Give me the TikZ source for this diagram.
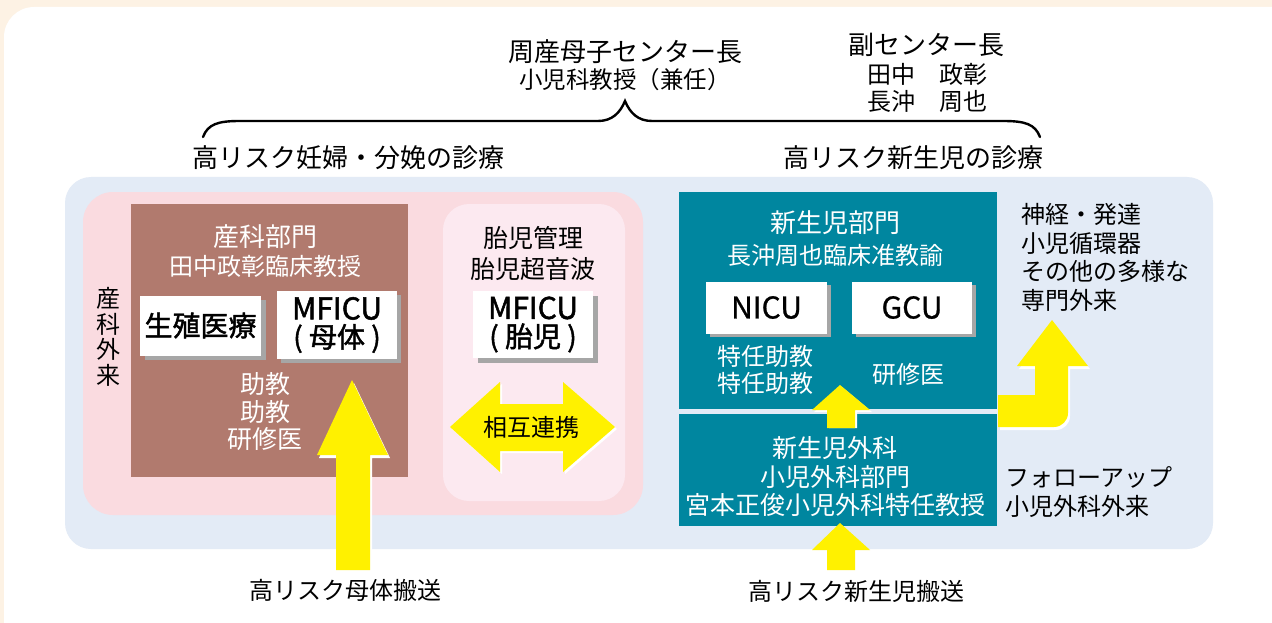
\documentclass[tikz,border=0pt]{standalone}
\usepackage{fontspec}
\setmainfont{Noto Sans CJK JP}
\newfontfamily\semibold{Noto Sans CJK JP}[FakeBold=1.6]
\newfontfamily\medweight{Noto Sans CJK JP}[FakeBold=0.8]
\definecolor{cream}{HTML}{FDF2E4}
\definecolor{lblue}{HTML}{E3EBF6}
\definecolor{pinkA}{HTML}{FADBE0}
\definecolor{pinkB}{HTML}{FCE9F0}
\definecolor{brownbox}{HTML}{B17A6E}
\definecolor{tealbox}{HTML}{00869F}
\definecolor{yel}{HTML}{FFF100}
\definecolor{shadowgray}{HTML}{A6A6A6}
\begin{document}
\begin{tikzpicture}[x=1pt,y=-1pt,
  txt/.style={inner sep=0pt, font=\fontsize{24}{28.5}\selectfont, align=center},
  bigtxt/.style={inner sep=0pt, font=\fontsize{26}{30}\selectfont, align=center},
  wtxt/.style={txt, text=white},
  wbigtxt/.style={bigtxt, text=white},
  wbox/.style={fill=white, inner sep=0pt, align=center, font=\semibold\fontsize{28}{28}\selectfont},
  shade/.style={fill=shadowgray},
  yarrow/.style={fill=yel},
  warrow/.style={fill=white}]
\useasboundingbox (0,0) rectangle (1272,623);
% background
\fill[cream] (0,0) rectangle (1272,623);
\fill[white, rounded corners=30pt] (4,7) rectangle (1310,660);
% brace
\draw[line width=2.4pt, line cap=round] (203,137) .. controls (208,124) and (218,121) .. (240,121) -- (598,121) .. controls (612,121) and (620,113) .. (625,101) .. controls (630,113) and (638,121) .. (652,121) -- (1003,121) .. controls (1025,121) and (1035,124) .. (1040,137);
% top texts
\node[bigtxt] (chief) at (625,52) {周産母子センター長};
\node[inner sep=0pt, font=\fontsize{23.5}{26}\selectfont] (chief2) at (625,80) {小児科教授（兼任）};
\node[bigtxt] (vice) at (926,45) {副センター長};
\node[txt, align=left, font=\fontsize{24}{27}\selectfont] (vicenames) at (927,88) {田中　政彰\\長沖　周也};
\node[bigtxt] (leftttl) at (348,158) {高リスク妊婦・分娩の診療};
\node[bigtxt] (rightttl) at (913,158) {高リスク新生児の診療};
% panels
\fill[lblue, rounded corners=26pt] (65,177) rectangle (1213,549);
\fill[pinkA, rounded corners=30pt] (83,192) rectangle (643,515);
\fill[pinkB, rounded corners=26pt] (443,204) rectangle (625,501);
\fill[brownbox] (131,204) rectangle (408,477);
\node[txt, font=\fontsize{24}{25.5}\selectfont] (obout) at (108,337) {産\\科\\外\\来};
% obstetrics
\node[wbigtxt] (obdept) at (265,237) {産科部門};
\node[wtxt] (obprof) at (265,266) {田中政彰臨床教授};
\fill[shade] (145,300) rectangle (266,360);
\node[wbox, minimum width=121pt, minimum height=60pt] (seishoku) at (200.5,325.5) {生殖医療};
\fill[shade] (281,295) rectangle (401,363);
\node[wbox, minimum width=120pt, minimum height=68pt] (mficuM) at (337,325) {{\fontsize{30}{28}\selectfont MFICU}\\( 母体 )};
\node[wtxt, font=\fontsize{25}{27.5}\selectfont] (obstaff) at (265,412) {助教\\助教\\研修医};
% fetal
\node[txt, font=\fontsize{25}{31}\selectfont] (fetal) at (533,253) {胎児管理\\胎児超音波};
\fill[shade] (478,296) rectangle (598,363);
\node[wbox, minimum width=120pt, minimum height=67pt] (mficuF) at (533,324.5) {{\fontsize{30}{28}\selectfont MFICU}\\( 胎児 )};
% double arrow
\fill[warrow, shift={(2,2)}] (450,427) -- (500,382) -- (500,404) -- (563,404) -- (563,382) -- (615,427) -- (563,472) -- (563,451) -- (500,451) -- (500,472) -- cycle;
\fill[yarrow] (450,427) -- (500,382) -- (500,404) -- (563,404) -- (563,382) -- (615,427) -- (563,472) -- (563,451) -- (500,451) -- (500,472) -- cycle;
\node[txt] (renkei) at (531,427) {相互連携};
% mother transport arrow
\fill[warrow, shift={(2,3)}] (352,380) -- (388,455) -- (370,455) -- (370,567) -- (336,567) -- (336,455) -- (317,455) -- cycle;
\fill[yarrow] (352,380) -- (388,455) -- (370,455) -- (370,570) -- (336,570) -- (336,455) -- (317,455) -- cycle;
\node[txt] (motherT) at (345,590) {高リスク母体搬送};
% neonatal
\fill[tealbox] (679,192) rectangle (997,409);
\fill[tealbox] (679,414) rectangle (997,526);
\node[wbigtxt] (neodept) at (835,223) {新生児部門};
\node[wtxt] (neoprof) at (835,255) {長沖周也臨床准教諭};
\fill[shade] (710,285) rectangle (831,337);
\node[wbox, minimum width=121pt, minimum height=52pt, font=\medweight\fontsize{30}{30}\selectfont] (nicu) at (766.5,307.5) {NICU};
\fill[shade] (856,285) rectangle (976,337);
\node[wbox, minimum width=120pt, minimum height=52pt, font=\medweight\fontsize{30}{30}\selectfont] (gcu) at (912,307.5) {GCU};
\node[wtxt, font=\fontsize{24}{27}\selectfont] (neostaff) at (765,370) {特任助教\\特任助教};
\node[wtxt] (neores) at (908,374) {研修医};
\node[wtxt, font=\fontsize{25}{28.5}\selectfont] (surg) at (835,477) {新生児外科\\小児外科部門\\宮本正俊小児外科特任教授};
% small arrows
\fill[warrow, shift={(2,2)}] (840,385) -- (870,410) -- (855,410) -- (855,426) -- (827,426) -- (827,410) -- (812,410) -- cycle;
\fill[yarrow] (840,385) -- (870,410) -- (855,410) -- (855,428) -- (827,428) -- (827,410) -- (812,410) -- cycle;
\fill[yarrow] (840,523) -- (870,550) -- (855,550) -- (855,570) -- (827,570) -- (827,550) -- (812,550) -- cycle;
\node[txt] (neoT) at (856,591) {高リスク新生児搬送};
% bent arrow
\fill[warrow, shift={(2,3)}] (998,395) -- (1035,395) -- (1035,366) -- (1017,366) -- (1052,320) -- (1088,366) -- (1068,366) -- (1068,413) .. controls (1068,420.7) and (1061.7,427) .. (1054,427) -- (998,427) -- cycle;
\fill[yarrow] (998,395) -- (1035,395) -- (1035,366) -- (1017,366) -- (1052,320) -- (1088,366) -- (1068,366) -- (1068,413) .. controls (1068,420.7) and (1061.7,427) .. (1054,427) -- (998,427) -- cycle;
\node[txt, align=left, anchor=north west, font=\fontsize{24}{28.7}\selectfont] (special) at (1021,203) {神経・発達\\小児循環器\\その他の多様な\\専門外来};
\node[txt, align=left, anchor=west, font=\fontsize{24}{29}\selectfont] (follow) at (1005,492) {フォローアップ\\小児外科外来};
\end{tikzpicture}
\end{document}
